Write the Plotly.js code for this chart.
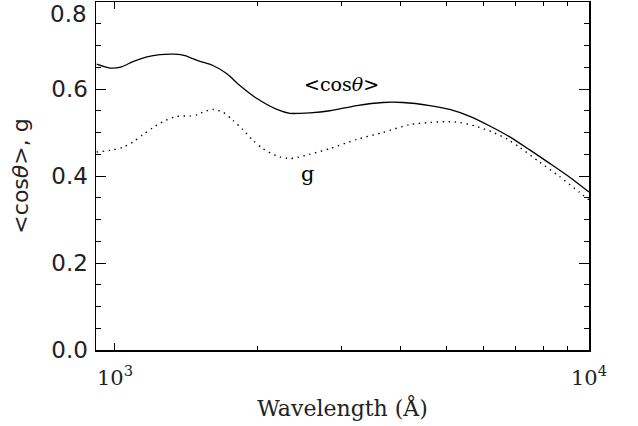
<!DOCTYPE html>
<html>
<head>
<meta charset="utf-8">
<script src="https://cdn.plot.ly/plotly-3.0.1.min.js"></script>
<style>html,body{margin:0;padding:0;background:#fff;}</style>
</head>
<body>
<div id="chart" style="width:638px;height:426px;"></div>
<script>
// Wavelength (Angstrom) and <cos theta> values
const wlCos = [915, 976, 1033, 1091, 1168, 1244, 1338, 1405, 1496, 1609, 1722, 1834, 1993, 2196, 2339, 2455, 2577, 2840, 3237, 3673, 4048, 4615, 5085, 5604, 6175, 6804, 7499, 8263, 9107, 10000];
const cosTheta = [0.657, 0.648, 0.651, 0.663, 0.674, 0.679, 0.680, 0.677, 0.665, 0.654, 0.635, 0.608, 0.578, 0.553, 0.544, 0.544, 0.545, 0.550, 0.562, 0.569, 0.569, 0.562, 0.553, 0.537, 0.515, 0.490, 0.460, 0.429, 0.397, 0.363];

// Wavelength (Angstrom) and asymmetry parameter g
const wlG = [915, 990, 1039, 1091, 1145, 1202, 1274, 1351, 1439, 1496, 1533, 1609, 1689, 1773, 1861, 1954, 2051, 2196, 2339, 2430, 2577, 2840, 3237, 3673, 4181, 4615, 5006, 5333, 5789, 6257, 6741, 7138, 7868, 8661, 9536, 10000];
const gVals = [0.455, 0.460, 0.466, 0.478, 0.495, 0.511, 0.527, 0.537, 0.538, 0.541, 0.547, 0.553, 0.547, 0.528, 0.507, 0.482, 0.463, 0.446, 0.440, 0.443, 0.450, 0.463, 0.484, 0.500, 0.518, 0.523, 0.525, 0.523, 0.514, 0.501, 0.484, 0.466, 0.432, 0.399, 0.363, 0.345];

// Axis ticks
const xTickVals = [1000, 10000];
const xTickText = ["10<sup>3</sup>", "10<sup>4</sup>"];
const xMinorVals = [2000, 3000, 4000, 5000, 6000, 7000, 8000, 9000];
const yTickVals = [0.0, 0.2, 0.4, 0.6, 0.8];
const yTickText = ["0.0", "0.2", "0.4", "0.6", ""];
const yTopLabel = "0.8";

const traces = [
  {x: wlCos, y: cosTheta, type: 'scatter', mode: 'lines', line: {color: '#000', width: 1.3, shape: 'spline', smoothing: 0.7}, hoverinfo: 'skip'},
  {x: wlG, y: gVals, type: 'scatter', mode: 'lines', line: {color: '#000', width: 1.4, dash: '1.4px,4.6px', shape: 'spline', smoothing: 0.7}, hoverinfo: 'skip'},
  {x: [], y: [], xaxis: 'x2', yaxis: 'y2', type: 'scatter', mode: 'lines', hoverinfo: 'skip'}
];

const xRange = [Math.log10(912), 4];
const yRange = [0, 0.8];

const layout = {
  width: 638, height: 426,
  margin: {l: 96, r: 49, t: 2, b: 76},
  paper_bgcolor: '#fff', plot_bgcolor: '#fff',
  showlegend: false,
  font: {family: 'DejaVu Sans', color: '#000'},
  xaxis: {
    type: 'log', range: xRange,
    tickmode: 'array', tickvals: xTickVals, ticktext: xTickText,
    ticks: 'inside', ticklen: 7, tickwidth: 1, tickcolor: '#000',
    minor: {tickmode: 'array', tickvals: xMinorVals, ticks: 'inside', ticklen: 4, tickwidth: 1, tickcolor: '#000', showgrid: false},
    showline: true, linecolor: '#000', linewidth: 1.5,
    showgrid: false, zeroline: false,
    tickfont: {family: 'DejaVu Serif', size: 21, color: '#222'},
    ticklabelstandoff: 8,
    title: {text: 'Wavelength (Å)', font: {family: 'DejaVu Serif', size: 22, color: '#222'}, standoff: 12}
  },
  xaxis2: {
    type: 'log', range: xRange, overlaying: 'x', side: 'top', anchor: 'y2',
    tickmode: 'array', tickvals: xTickVals, showticklabels: false,
    ticks: 'inside', ticklen: 7, tickwidth: 1, tickcolor: '#000',
    minor: {tickmode: 'array', tickvals: xMinorVals, ticks: 'inside', ticklen: 4, tickwidth: 1, tickcolor: '#000', showgrid: false},
    showline: true, linecolor: '#000', linewidth: 1.5,
    showgrid: false, zeroline: false
  },
  yaxis: {
    range: yRange,
    tickmode: 'array', tickvals: yTickVals, ticktext: yTickText,
    ticks: 'inside', ticklen: 10, tickwidth: 1, tickcolor: '#000',
    minor: {dtick: 0.05, ticks: 'inside', ticklen: 5, tickwidth: 1, tickcolor: '#000', showgrid: false},
    showline: true, linecolor: '#000', linewidth: 1.5,
    showgrid: false, zeroline: false,
    tickfont: {family: 'DejaVu Sans', size: 23, color: '#222'},
    ticklabelstandoff: 2,
    title: {text: '&lt;cos<i>θ</i>&gt;, g', font: {family: 'DejaVu Sans', size: 22, color: '#222'}, standoff: 16}
  },
  yaxis2: {
    range: yRange, overlaying: 'y', side: 'right', anchor: 'x2',
    tickmode: 'array', tickvals: yTickVals, showticklabels: false,
    ticks: 'inside', ticklen: 10, tickwidth: 1, tickcolor: '#000',
    minor: {dtick: 0.05, ticks: 'inside', ticklen: 5, tickwidth: 1, tickcolor: '#000', showgrid: false},
    showline: true, linecolor: '#000', linewidth: 1.5,
    showgrid: false, zeroline: false
  },
  annotations: [
    {x: Math.log10(3010), y: 0.612, xref: 'x', yref: 'y', text: '&lt;cos<i>θ</i>&gt;', showarrow: false, font: {family: 'DejaVu Serif', size: 19, color: '#000'}},
    {x: Math.log10(2553), y: 0.405, xref: 'x', yref: 'y', text: 'g', showarrow: false, font: {family: 'DejaVu Serif', size: 21, color: '#000'}},
    {x: 0, y: 1, xref: 'paper', yref: 'paper', xanchor: 'right', yanchor: 'top', xshift: -7, yshift: 3, text: yTopLabel, showarrow: false, font: {family: 'DejaVu Sans', size: 23, color: '#222'}}
  ]
};

Plotly.newPlot('chart', traces, layout, {staticPlot: true, displayModeBar: false});
</script>
</body>
</html>
